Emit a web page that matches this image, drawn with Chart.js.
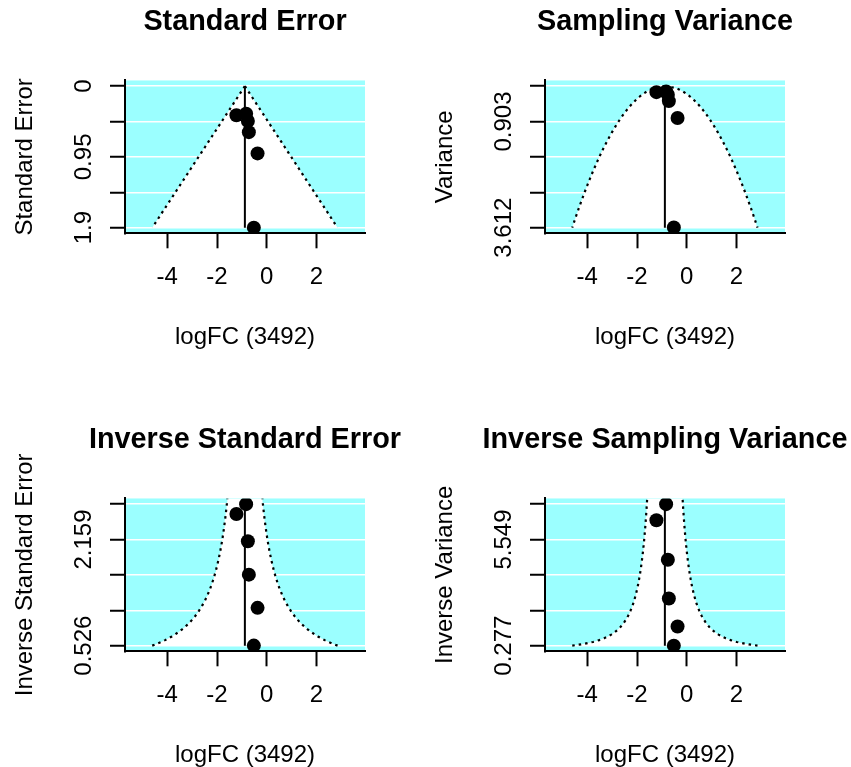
<!DOCTYPE html>
<html>
<head>
<meta charset="utf-8">
<script src="https://cdn.jsdelivr.net/npm/chart.js@4.4.1/dist/chart.umd.min.js"></script>
<style>
body { margin: 0; background: #fff; overflow: hidden; }
#wrap { position: relative; width: 851px; height: 767px; overflow: hidden; }
canvas { position: absolute; }
</style>
</head>
<body>
<div id="wrap">
<canvas id="c1" width="490" height="418" style="left:0;top:0"></canvas>
<canvas id="c2" width="490" height="418" style="left:420px;top:0"></canvas>
<canvas id="c3" width="490" height="418" style="left:0;top:418px"></canvas>
<canvas id="c4" width="490" height="418" style="left:420px;top:418px"></canvas>
</div>

<script>
// study estimates
var logFC = [-0.83, -1.22, -0.76, -0.72, -0.37, -0.52];
var stdErr = [0.370, 0.392, 0.469, 0.618, 0.903, 1.900];
var estimate = -0.88;

var xTicks = [-4, -2, 0, 2];
var xMin = -5.70, xMax = 3.95;

var seTicks = [0, 0.475, 0.95, 1.425, 1.9];
var seLabels = ['0', '', '0.95', '', '1.9'];
var viTicks = [0, 0.903, 1.806, 2.709, 3.612];
var viLabels = ['', '0.903', '', '', '3.612'];
var seinvTicks = [0.526, 1.070, 1.615, 2.159, 2.703];
var seinvLabels = ['0.526', '', '', '2.159', ''];
var viinvTicks = [0.277, 2.034, 3.792, 5.549, 7.306];
var viinvLabels = ['0.277', '', '', '5.549', ''];

var FONT = "'Liberation Sans', Arial, Helvetica, sans-serif";
Chart.defaults.font.family = FONT;
Chart.defaults.color = '#000';

var panelBg = {
  id: 'panelBg',
  beforeDraw: function (chart) {
    var a = chart.chartArea, ctx = chart.ctx;
    ctx.save();
    ctx.fillStyle = '#9bffff';
    ctx.fillRect(a.left, a.top, a.right - a.left, a.bottom - a.top);
    ctx.restore();
  }
};

// R draws y tick labels parallel to the axis
var rotTicks = {
  id: 'rotTicks',
  afterDraw: function (chart, args, opts) {
    var ctx = chart.ctx, ys = chart.scales.y;
    ctx.save();
    ctx.font = '24px ' + FONT;
    ctx.fillStyle = '#000';
    ctx.textAlign = 'center';
    ctx.textBaseline = 'alphabetic';
    for (var i = 0; i < opts.values.length; i++) {
      if (!opts.labels[i]) continue;
      ctx.save();
      ctx.translate(chart.chartArea.left - 34, ys.getPixelForValue(opts.values[i]));
      ctx.rotate(-Math.PI / 2);
      ctx.fillText(opts.labels[i], 0, 0);
      ctx.restore();
    }
    ctx.restore();
  }
};

function makePanel(id, title, ylab, yOf, ticks, labels, reverse, half) {
  var lo = ticks[0], hi = ticks[ticks.length - 1];
  var pad = (hi - lo) * 0.04;
  var yMin = lo - pad, yMax = hi + pad;

  var pts = logFC.map(function (x, i) { return { x: x, y: yOf(stdErr[i]) }; });

  // pseudo confidence region (estimate +/- 1.96 * se)
  var from = reverse ? 0 : lo, to = reverse ? hi : yMax;
  var left = [], right = [];
  for (var k = 0; k <= 80; k++) {
    var y = from + (to - from) * k / 80;
    left.push({ x: estimate - half(y), y: y });
    right.push({ x: estimate + half(y), y: y });
  }
  var shape = left.concat(right.slice().reverse());

  new Chart(id, {
    type: 'scatter',
    data: {
      datasets: [
        { data: pts, backgroundColor: '#000', borderWidth: 0, pointRadius: 7, showLine: false },
        { data: [{ x: estimate, y: lo }, { x: estimate, y: hi }], showLine: true, borderColor: '#000', borderWidth: 2, pointRadius: 0 },
        { data: left, showLine: true, borderColor: '#000', borderWidth: 2.2, borderDash: [2.5, 4], pointRadius: 0 },
        { data: right, showLine: true, borderColor: '#000', borderWidth: 2.2, borderDash: [2.5, 4], pointRadius: 0 },
        { data: shape, showLine: true, fill: 'shape', backgroundColor: '#fff', borderWidth: 0, pointRadius: 0 }
      ]
    },
    options: {
      responsive: false,
      animation: false,
      events: [],
      layout: { padding: 0 },
      plugins: {
        legend: { display: false },
        tooltip: { enabled: false },
        title: {
          display: true, text: title,
          font: { size: 28.8, weight: 'bold' },
          padding: { top: 4.4, bottom: 41.5 }
        },
        rotTicks: { values: ticks, labels: labels }
      },
      scales: {
        x: {
          type: 'linear', min: xMin, max: xMax,
          afterBuildTicks: function (s) { s.ticks = xTicks.map(function (v) { return { value: v }; }); },
          afterFit: function (s) { s.height = 184.7; },
          grid: { drawOnChartArea: false, drawTicks: true, tickLength: 15, tickColor: '#000', tickWidth: 2 },
          border: { color: '#000', width: 2 },
          ticks: { font: { size: 24 }, padding: 15, maxRotation: 0, autoSkip: false },
          title: { display: true, text: 'logFC (3492)', font: { size: 24 }, padding: { top: 0, bottom: 65.9 } }
        },
        y: {
          type: 'linear', min: yMin, max: yMax, reverse: reverse,
          afterBuildTicks: function (s) { s.ticks = ticks.map(function (v) { return { value: v }; }); },
          afterFit: function (s) { s.width = 125; },
          grid: { color: '#fff', lineWidth: 1.5, drawTicks: true, tickLength: 15, tickColor: '#000', tickWidth: 2 },
          border: { color: '#000', width: 2 },
          ticks: { display: false },
          title: { display: true, text: ylab, font: { size: 24 }, padding: { top: 10.8, bottom: 0 } }
        },
        // empty right margin so the title centres over the plot
        yRight: {
          type: 'linear', position: 'right', min: 0, max: 1,
          grid: { display: false }, border: { display: false }, ticks: { display: false },
          afterFit: function (s) { s.width = 125; }
        }
      }
    },
    plugins: [panelBg, rotTicks]
  });
}

makePanel('c1', 'Standard Error', 'Standard Error',
  function (s) { return s; }, seTicks, seLabels, true,
  function (y) { return 1.96 * y; });
makePanel('c2', 'Sampling Variance', 'Variance',
  function (s) { return s * s; }, viTicks, viLabels, true,
  function (y) { return 1.96 * Math.sqrt(Math.max(y, 0)); });
makePanel('c3', 'Inverse Standard Error', 'Inverse Standard Error',
  function (s) { return 1 / s; }, seinvTicks, seinvLabels, false,
  function (y) { return 1.96 / y; });
makePanel('c4', 'Inverse Sampling Variance', 'Inverse Variance',
  function (s) { return 1 / (s * s); }, viinvTicks, viinvLabels, false,
  function (y) { return 1.96 / Math.sqrt(y); });
</script>
</body>
</html>
